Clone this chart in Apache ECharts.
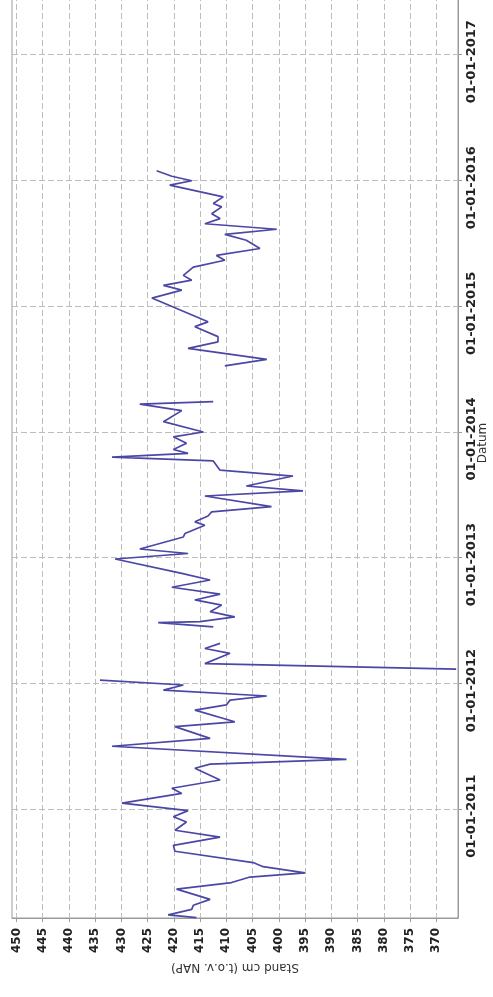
<!DOCTYPE html>
<html><head><meta charset="utf-8">
<script src="https://cdn.jsdelivr.net/npm/echarts@6/dist/echarts.min.js"></script>
<style>html,body{margin:0;padding:0;background:#fff}#c{width:493px;height:997px}</style>
</head><body><div id="c"></div>
<script>
const dates = [
'2010-02-20','2010-02-28','2010-03-16','2010-03-28','2010-04-14','2010-05-14','2010-06-02','2010-06-18','2010-06-30','2010-07-18',
'2010-07-30','2010-09-01','2010-09-18','2010-10-12','2010-11-01','2010-11-25','2010-12-10','2010-12-28','2011-01-19','2011-02-16',
'2011-03-03','2011-03-27','2011-04-30','2011-05-12','2011-05-26','2011-07-03','2011-07-26','2011-08-29','2011-09-12','2011-10-16',
'2011-10-31','2011-11-14','2011-11-26','2011-12-13','2011-12-28','2012-01-11','2012-01-25','2012-02-12','2012-02-28','2012-03-29',
'2012-04-12','2012-04-27','2012-05-20','2012-06-14','2012-06-26','2012-06-29','2012-07-13','2012-07-28','2012-08-16','2012-08-31',
'2012-09-17','2012-10-07','2012-10-28','2012-11-16','2012-12-28','2013-01-13','2013-01-26','2013-03-02','2013-03-12','2013-04-05',
'2013-04-15','2013-05-02','2013-05-14','2013-05-29','2013-06-29','2013-07-14','2013-07-28','2013-08-26','2013-09-12','2013-10-09',
'2013-10-20','2013-10-31','2013-11-11','2013-11-29','2013-12-18','2014-01-01','2014-01-31','2014-03-04','2014-03-23','2014-03-30',
'2014-05-20','2014-07-12','2014-07-31','2014-09-01','2014-09-20','2014-10-05','2014-11-03','2014-11-17','2015-01-25','2015-02-17',
'2015-03-03','2015-03-18','2015-04-01','2015-04-25','2015-05-15','2015-05-29','2015-06-18','2015-07-12','2015-07-29','2015-08-13',
'2015-08-29','2015-09-13','2015-09-27','2015-10-17','2015-10-27','2015-11-15','2015-12-19','2016-01-01','2016-01-14','2016-01-30'
];
const levels = [
415.7,421.1,416.6,416.3,413.1,419.5,409.0,405.5,395.0,403.0,
404.9,419.8,420.1,411.2,419.8,417.6,420.1,417.3,429.9,418.5,
420.4,411.2,416.0,413.1,387.1,431.8,413.1,419.8,408.4,416.0,
410.0,409.3,402.3,422.0,418.2,434.1,null,366.2,414.1,409.3,
414.1,411.2,null,412.5,423.0,415.0,408.4,413.1,410.9,416.0,
411.2,420.4,413.1,418.5,431.2,417.3,426.5,418.2,417.9,414.1,
416.0,413.5,412.8,401.4,414.1,395.4,406.2,397.3,411.2,412.5,
431.8,417.3,420.1,417.6,420.1,414.4,422.0,418.5,426.5,412.5,
null,410.3,402.3,417.3,411.6,411.6,416.0,413.5,424.2,418.5,
422.0,416.6,418.2,416.3,410.3,411.9,403.6,406.2,410.3,400.4,
414.1,411.2,412.8,410.9,412.5,410.6,420.8,416.6,420.4,423.3
];
const valueTicks = [370,375,380,385,390,395,400,405,410,415,420,425,430,435,440,445,450];
const dateTicks = ['2011-01-01','2012-01-01','2013-01-01','2014-01-01','2015-01-01','2016-01-01','2017-01-01'];
const dateMin = '2010-02-19', dateMax = '2017-09-10';

function ts(s){ const p = s.split('-'); return new Date(+p[0], +p[1]-1, +p[2]).getTime(); }
const tickVals = dateTicks.map(ts);

const chart = echarts.init(document.getElementById('c'), null, {renderer:'canvas'});
const gridLine = {show:true, lineStyle:{color:'#bdbdbd', width:1, type:[6,3]}};
chart.setOption({
  animation:false,
  backgroundColor:'#fff',
  grid:{left:12, right:35, top:-32, bottom:79, show:true, borderColor:'#9a9a9a', borderWidth:1, containLabel:false, outerBoundsMode:'none'},
  xAxis:{
    type:'value', inverse:true, min:365.85, max:450.86, position:'bottom',
    name:'Stand cm (t.o.v. NAP)', nameLocation:'middle', nameGap:41, nameRotate:180,
    nameTextStyle:{fontSize:12, color:'#333', fontFamily:'DejaVu Sans'},
    axisLine:{show:true, lineStyle:{color:'#9a9a9a'}},
    axisTick:{show:true, customValues:valueTicks, length:4, lineStyle:{color:'#9a9a9a'}},
    axisLabel:{customValues:valueTicks, rotate:90, margin:10, fontSize:12, fontWeight:'bold', color:'#222', fontFamily:'DejaVu Sans'},
    splitLine:gridLine
  },
  yAxis:{
    type:'value', position:'right', min:ts(dateMin), max:ts(dateMax), scale:true,
    name:'Datum', nameLocation:'middle', nameGap:19, nameMoveOverlap:false,
    nameTextStyle:{fontSize:12, color:'#333', fontFamily:'DejaVu Sans'},
    axisLine:{show:true, lineStyle:{color:'#9a9a9a'}},
    axisTick:{show:true, customValues:tickVals, length:4, lineStyle:{color:'#9a9a9a'}},
    axisLabel:{customValues:tickVals, rotate:90, margin:7, fontSize:13, fontWeight:'bold', color:'#222', fontFamily:'DejaVu Sans',
      padding:[0,14,0,0],
      formatter: v => '01-01-' + new Date(v).getFullYear()},
    splitLine:gridLine
  },
  series:[{
    type:'line', symbol:'none', showSymbol:false, connectNulls:false,
    lineStyle:{color:'#4b47a6', width:1.7},
    data: dates.map((d,i) => [levels[i] === null ? '-' : levels[i], ts(d)])
  }]
});
</script></body></html>
